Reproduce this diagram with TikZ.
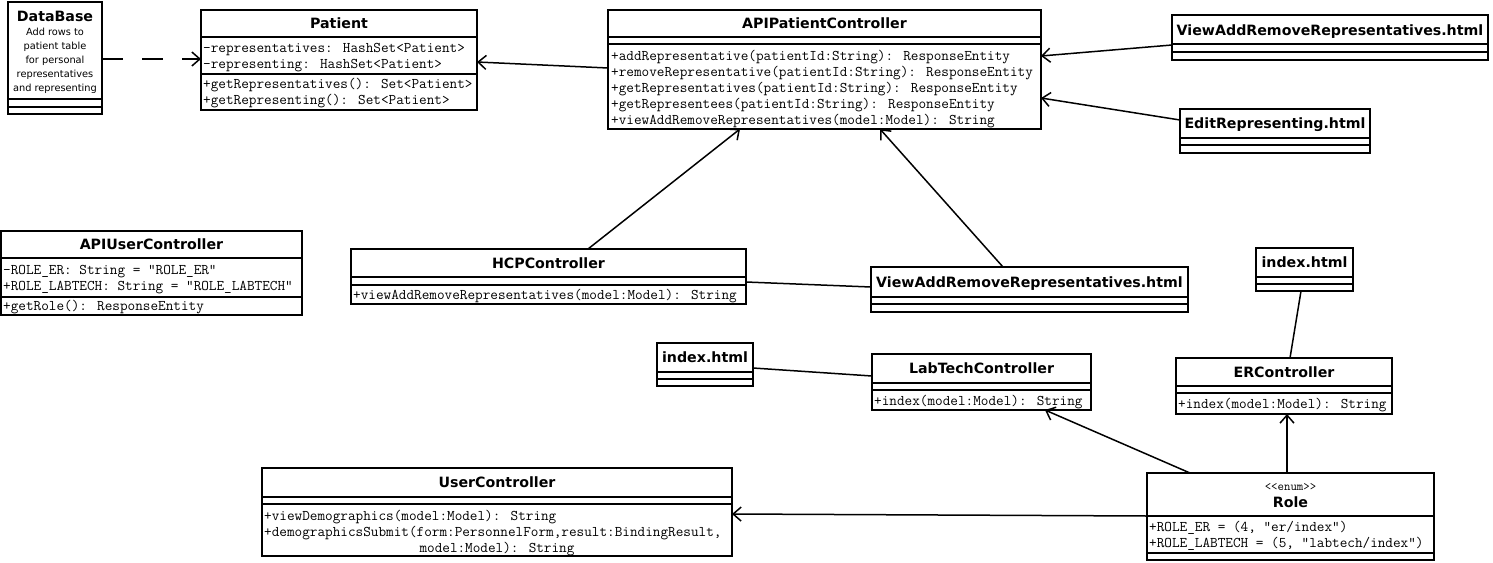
\documentclass[tikz,border=0pt]{standalone}
\usepackage{fontspec}
\setmainfont{DejaVu Sans}
\newfontfamily\mysans{DejaVu Sans}
\usetikzlibrary{arrows.meta}
\tikzset{
  box/.style={draw, line width=1.5pt, inner sep=0pt, outer sep=0pt, anchor=north west},
  ttl/.style={font=\mysans\bfseries\fontsize{14.2}{16}\selectfont, inner sep=0pt, text height=12pt, text depth=2pt},
  mm/.style={font=\ttfamily\fontsize{14.8}{16}\selectfont, inner sep=0pt, anchor=west, text height=10pt, text depth=2pt},
  note/.style={font=\mysans\fontsize{9.8}{14}\selectfont, inner sep=0pt, align=center},
  sepl/.style={line width=1.5pt},
  assoc/.style={line width=1.5pt},
  arr/.style={assoc, -{Straight Barb[length=8pt,width=14pt]}},
}
\begin{document}
\begin{tikzpicture}[x=1pt,y=-1pt]
\useasboundingbox (0,0) rectangle (1493,562);
% ---------- DataBase
\node[box, minimum width=94pt, minimum height=112pt] (db) at (8,2) {};
\node[ttl] (dbT) at (db.north |- 0,16) {DataBase};
\node[note] (dbN) at (db.north |- 0,60.5) {Add rows to\\patient table\\for personal\\representatives\\and representing};
\draw[sepl] (db.west |- 0,99) -- (db.east |- 0,99);
\draw[sepl] (db.west |- 0,107) -- (db.east |- 0,107);
% ---------- Patient
\node[box, minimum width=276pt, minimum height=100pt] (pat) at (201,10) {};
\node[ttl] (patT) at (pat.north |- 0,23.5) {Patient};
\draw[sepl] (pat.west |- 0,37) -- (pat.east |- 0,37);
\node[mm] (pat1) at (203,48) {-representatives: HashSet<Patient>};
\node[mm] (pat2) at (203,64) {-representing: HashSet<Patient>};
\draw[sepl] (pat.west |- 0,74) -- (pat.east |- 0,74);
\node[mm] (pat3) at (203,84.5) {+getRepresentatives(): Set<Patient>};
\node[mm] (pat4) at (203,100) {+getRepresenting(): Set<Patient>};
% ---------- APIPatientController
\node[box, minimum width=433pt, minimum height=119pt] (apc) at (608,10) {};
\node[ttl] (apcT) at (apc.north |- 0,23.5) {APIPatientController};
\draw[sepl] (apc.west |- 0,37) -- (apc.east |- 0,37);
\draw[sepl] (apc.west |- 0,44) -- (apc.east |- 0,44);
\node[mm] (apc1) at (611,56) {+addRepresentative(patientId:String): ResponseEntity};
\node[mm] (apc2) at (611,72) {+removeRepresentative(patientId:String): ResponseEntity};
\node[mm] (apc3) at (611,88) {+getRepresentatives(patientId:String): ResponseEntity};
\node[mm] (apc4) at (611,104) {+getRepresentees(patientId:String): ResponseEntity};
\node[mm] (apc5) at (611,120) {+viewAddRemoveRepresentatives(model:Model): String};
% ---------- ViewAddRemoveRepresentatives.html (top)
\node[box, minimum width=316pt, minimum height=45pt] (vtop) at (1172,15) {};
\node[ttl] (vtopT) at (vtop.north |- 0,30) {ViewAddRemoveRepresentatives.html};
\draw[sepl] (vtop.west |- 0,44) -- (vtop.east |- 0,44);
\draw[sepl] (vtop.west |- 0,52) -- (vtop.east |- 0,52);
% ---------- EditRepresenting.html
\node[box, minimum width=190pt, minimum height=44pt] (edit) at (1180,109) {};
\node[ttl] (editT) at (edit.north |- 0,123.5) {EditRepresenting.html};
\draw[sepl] (edit.west |- 0,138) -- (edit.east |- 0,138);
\draw[sepl] (edit.west |- 0,145) -- (edit.east |- 0,145);
% ---------- APIUserController
\node[box, minimum width=301pt, minimum height=84pt] (apiu) at (1,231) {};
\node[ttl] (apiuT) at (apiu.north |- 0,244.5) {APIUserController};
\draw[sepl] (apiu.west |- 0,258) -- (apiu.east |- 0,258);
\node[mm] (apiu1) at (3,270) {-ROLE\_ER: String = "ROLE\_ER"};
\node[mm] (apiu2) at (3,286) {+ROLE\_LABTECH: String = "ROLE\_LABTECH"};
\draw[sepl] (apiu.west |- 0,297) -- (apiu.east |- 0,297);
\node[mm] (apiu3) at (3,306) {+getRole(): ResponseEntity};
% ---------- HCPController
\node[box, minimum width=395pt, minimum height=55pt] (hcp) at (351,249) {};
\node[ttl] (hcpT) at (hcp.north |- 0,263) {HCPController};
\draw[sepl] (hcp.west |- 0,277) -- (hcp.east |- 0,277);
\draw[sepl] (hcp.west |- 0,285) -- (hcp.east |- 0,285);
\node[mm] (hcp1) at (353,295.5) {+viewAddRemoveRepresentatives(model:Model): String};
% ---------- ViewAddRemoveRepresentatives.html (middle)
\node[box, minimum width=317pt, minimum height=45pt] (vmid) at (871,267) {};
\node[ttl] (vmidT) at (vmid.north |- 0,282) {ViewAddRemoveRepresentatives.html};
\draw[sepl] (vmid.west |- 0,297) -- (vmid.east |- 0,297);
\draw[sepl] (vmid.west |- 0,304) -- (vmid.east |- 0,304);
% ---------- index.html (left)
\node[box, minimum width=96pt, minimum height=43pt] (idxL) at (657,343) {};
\node[ttl] (idxLT) at (idxL.north |- 0,357.5) {index.html};
\draw[sepl] (idxL.west |- 0,372) -- (idxL.east |- 0,372);
\draw[sepl] (idxL.west |- 0,379) -- (idxL.east |- 0,379);
% ---------- LabTechController
\node[box, minimum width=219pt, minimum height=56pt] (lab) at (872,354) {};
\node[ttl] (labT) at (lab.north |- 0,368.5) {LabTechController};
\draw[sepl] (lab.west |- 0,383) -- (lab.east |- 0,383);
\draw[sepl] (lab.west |- 0,390) -- (lab.east |- 0,390);
\node[mm] (lab1) at (874,401) {+index(model:Model): String};
% ---------- index.html (right)
\node[box, minimum width=97pt, minimum height=43pt] (idxR) at (1256,248) {};
\node[ttl] (idxRT) at (idxR.north |- 0,262.5) {index.html};
\draw[sepl] (idxR.west |- 0,277) -- (idxR.east |- 0,277);
\draw[sepl] (idxR.west |- 0,284) -- (idxR.east |- 0,284);
% ---------- ERController
\node[box, minimum width=216pt, minimum height=56pt] (er) at (1176,358) {};
\node[ttl] (erT) at (er.north |- 0,372) {ERController};
\draw[sepl] (er.west |- 0,386) -- (er.east |- 0,386);
\draw[sepl] (er.west |- 0,393) -- (er.east |- 0,393);
\node[mm] (er1) at (1178,404.5) {+index(model:Model): String};
% ---------- UserController
\node[box, minimum width=470pt, minimum height=88pt] (uc) at (262,468) {};
\node[ttl] (ucT) at (uc.north |- 0,482.5) {UserController};
\draw[sepl] (uc.west |- 0,497) -- (uc.east |- 0,497);
\draw[sepl] (uc.west |- 0,504) -- (uc.east |- 0,504);
\node[mm] (uc1) at (264,516) {+viewDemographics(model:Model): String};
\node[mm] (uc2) at (264,532) {+demographicsSubmit(form:PersonnelForm,result:BindingResult,};
\node[mm, anchor=center] (uc3) at (uc.north |- 0,548) {model:Model): String};
% ---------- Role
\node[box, minimum width=287pt, minimum height=87pt] (role) at (1147,473) {};
\node[mm, anchor=center, font=\ttfamily\fontsize{12.5}{14}\selectfont] (roleS) at (role.north |- 0,486) {<{}<enum>{}>};
\node[ttl] (roleT) at (role.north |- 0,502) {Role};
\draw[sepl] (role.west |- 0,516) -- (role.east |- 0,516);
\node[mm] (role1) at (1149,527) {+ROLE\_ER = (4, "er/index")};
\node[mm] (role2) at (1149,543) {+ROLE\_LABTECH = (5, "labtech/index")};
\draw[sepl] (role.west |- 0,553) -- (role.east |- 0,553);
% ---------- connectors
\draw[arr, dash pattern=on 21pt off 19pt] (db.east |- 0,59) -- (pat.west |- 0,59);
\draw[arr] (apc.west |- 0,68) -- (pat.east |- 0,62);
\draw[arr] (vtop.west |- 0,45) -- (apc.east |- 0,56);
\draw[arr] (edit.west |- 0,120) -- (apc.east |- 0,98);
\draw[arr] (hcp.north -| 588,0) -- (apc.south -| 740,0);
\draw[arr] (vmid.north -| 1003,0) -- (apc.south -| 880,0);
\draw[assoc] (hcp.east |- 0,282) -- (vmid.west |- 0,287);
\draw[assoc] (idxL.east |- 0,368) -- (lab.west |- 0,376);
\draw[assoc] (idxR.south -| 1301,0) -- (er.north -| 1290,0);
\draw[arr] (role.north -| 1190,0) -- (lab.south -| 1045,0);
\draw[arr] (role.north -| 1287,0) -- (er.south -| 1287,0);
\draw[arr] (role.west |- 0,516) -- (uc.east |- 0,514);
\end{tikzpicture}
\end{document}
